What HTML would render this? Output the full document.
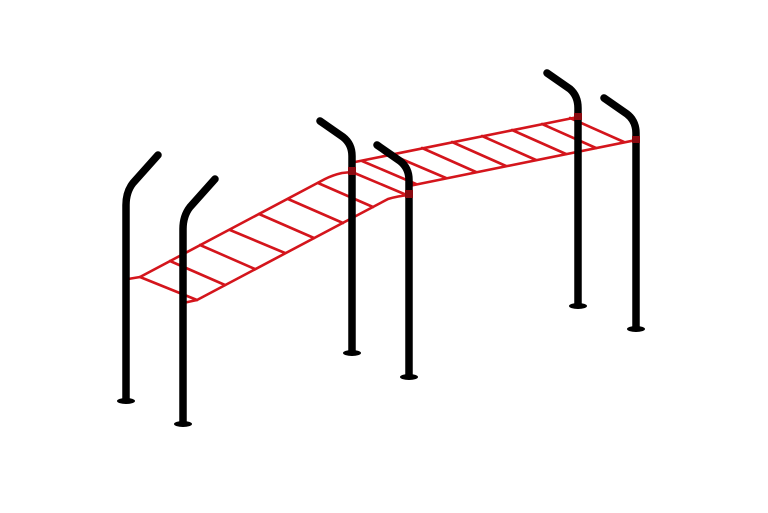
<!DOCTYPE html>
<html><head><meta charset="utf-8"><style>html,body{margin:0;padding:0;background:#fff}svg{display:block}</style></head>
<body>
<svg width="768" height="513" viewBox="0 0 768 513" xmlns="http://www.w3.org/2000/svg">
<g fill="none" stroke="#d4151c" stroke-width="2.6" stroke-linecap="round" stroke-linejoin="round">
  <!-- ladder 1 -->
  <path d="M128,279 L140,277 L325,179 Q333,175 342,173 L352,172"/>
  <path d="M183,303 L197,300 L388,199 Q398,196 409,195"/>
  <path d="M140,277 L197,300"/>
  <path d="M352,172 L409,196"/>
  <path d="M170,261 L225,285 M200,245 L255,269 M230,230 L285,253 M259,214 L314,238 M288,199 L343,223 M318,183 L373,207"/>
  <!-- ladder 2 -->
  <path d="M350,163 L578,117"/>
  <path d="M409,186 L636,140"/>
  <path d="M362,161 L416,184 M392,155 L446,178 M422,148 L476,172 M452,142 L506,166 M482,136 L536,160 M512,130 L566,154 M542,124 L596,148 M570,118 L624,142"/>
</g>
<g fill="none" stroke="#000" stroke-width="7.5" stroke-linecap="round" stroke-linejoin="round">
  <path d="M158,155 L133,183 Q126,192 126,205 L126,400"/>
  <path d="M215,179 L190,207 Q183,216 183,229 L183,423"/>
  <path d="M320,121 L343,137 Q352,144 352,156 L352,352"/>
  <path d="M377,145 L400,161 Q409,168 409,180 L409,376"/>
  <path d="M547,73 L570,89 Q578,96 578,108 L578,305"/>
  <path d="M604,98 L627,114 Q636,121 636,133 L636,328"/>
</g>
<g fill="#000">
  <ellipse cx="126" cy="401" rx="9" ry="3"/>
  <ellipse cx="183" cy="424" rx="9" ry="3"/>
  <ellipse cx="352" cy="353" rx="9" ry="3"/>
  <ellipse cx="409" cy="377" rx="9" ry="3"/>
  <ellipse cx="578" cy="306" rx="9" ry="3"/>
  <ellipse cx="636" cy="329" rx="9" ry="3"/>
</g>
<g fill="#8a0a10">
  <rect x="348" y="167" width="8" height="8"/>
  <rect x="405" y="190" width="8" height="8"/>
  <rect x="574" y="113" width="8" height="7"/>
  <rect x="632" y="136" width="8" height="7"/>
</g>
</svg>
</body></html>
